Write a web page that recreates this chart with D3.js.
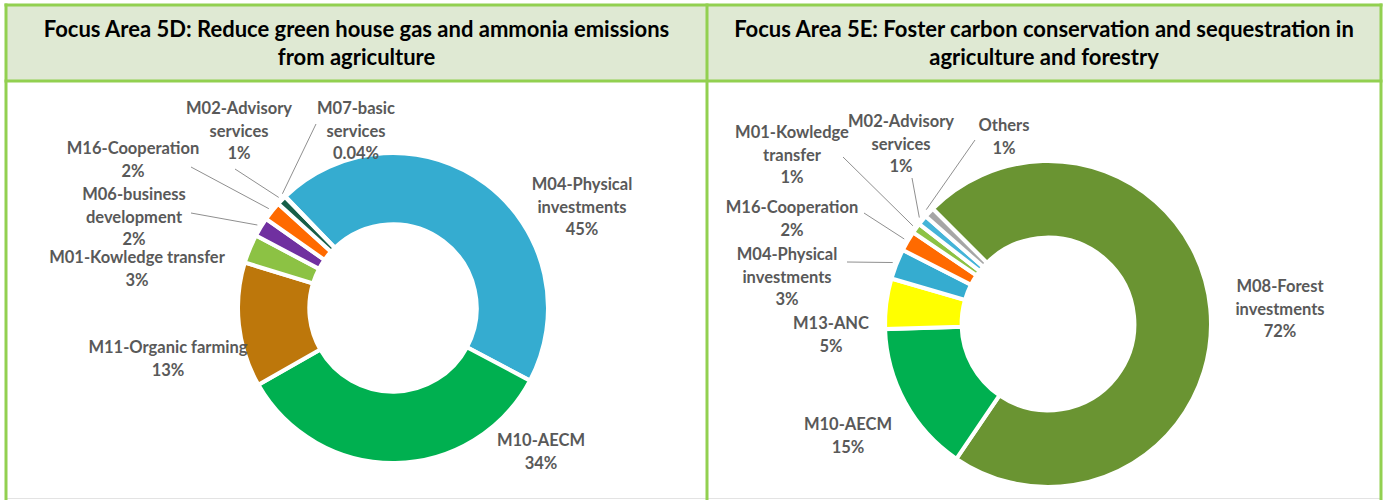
<!DOCTYPE html>
<html>
<head>
<meta charset="utf-8">
<script src="https://cdn.jsdelivr.net/npm/d3@7"></script>
<style>
  body { margin: 0; background: #fff; }
  svg { display: block; font-family: Lato, "Open Sans", sans-serif; }
</style>
</head>
<body>
<div id="app"></div>
<script>
(function (d3) {
  'use strict'
  const w = 1385
  const h = 500

  // ---- data ----
  const titles5D = ['Focus Area 5D: Reduce green house gas and ammonia emissions', 'from agriculture']
  const names5D = ['M04-Physical investments', 'M10-AECM', 'M11-Organic farming', 'M01-Kowledge transfer',
    'M06-business development', 'M16-Cooperation', 'M02-Advisory services', 'M07-basic services']
  const values5D = [45, 34, 13, 3, 2, 2, 1, 0.04]

  const titles5E = ['Focus Area 5E: Foster carbon conservation and sequestration in', 'agriculture and forestry']
  const names5E = ['M08-Forest investments', 'M10-AECM', 'M13-ANC', 'M04-Physical investments',
    'M16-Cooperation', 'M01-Kowledge transfer', 'M02-Advisory services', 'Others']
  const values5E = [72, 15, 5, 3, 2, 1, 1, 1]

  // ---- styles / layout ----
  const colors5D = ['#35acd0', '#00b050', '#bd770b', '#8cc244', '#7030a0', '#ff6a00', '#175e48', '#4a7ebb']
  const colors5E = ['#6a9432', '#00b050', '#ffff00', '#35acd0', '#ff6a00', '#8cc244', '#44b4d8', '#a6a6a6']

  // label centre x, first line centre y, wrapped lines, optional leader start
  const labels5D = {
    'M04-Physical investments': { x: 582, y: 184, lines: ['M04-Physical', 'investments'] },
    'M10-AECM': { x: 541, y: 440, lines: ['M10-AECM'] },
    'M11-Organic farming': { x: 168, y: 347, lines: ['M11-Organic farming'] },
    'M01-Kowledge transfer': { x: 137, y: 257, lines: ['M01-Kowledge transfer'] },
    'M06-business development': { x: 134, y: 194, lines: ['M06-business', 'development'], lead: [191, 213] },
    'M16-Cooperation': { x: 133, y: 148, lines: ['M16-Cooperation'], lead: [191, 167] },
    'M02-Advisory services': { x: 239, y: 108, lines: ['M02-Advisory', 'services'], lead: [235, 169] },
    'M07-basic services': { x: 356, y: 108, lines: ['M07-basic', 'services'], lead: [316, 124] }
  }
  const labels5E = {
    'M08-Forest investments': { x: 1280, y: 286, lines: ['M08-Forest', 'investments'] },
    'M10-AECM': { x: 848, y: 424, lines: ['M10-AECM'] },
    'M13-ANC': { x: 831, y: 323, lines: ['M13-ANC'] },
    'M04-Physical investments': { x: 787, y: 254, lines: ['M04-Physical', 'investments'], lead: [847, 262] },
    'M16-Cooperation': { x: 792, y: 207, lines: ['M16-Cooperation'], lead: [864, 213] },
    'M01-Kowledge transfer': { x: 792, y: 132, lines: ['M01-Kowledge', 'transfer'], lead: [843, 157] },
    'M02-Advisory services': { x: 901, y: 121, lines: ['M02-Advisory', 'services'], lead: [912, 178] },
    'Others': { x: 1004, y: 125, lines: ['Others'], lead: [975, 140] }
  }

  const green = '#92d050'
  const headFill = '#dfe9d3'
  const textGrey = '#595959'

  const svg = d3.select('#app').append('svg')
    .attr('width', w)
    .attr('height', h)

  // header band
  svg.append('rect')
    .attr('x', 6).attr('y', 5)
    .attr('width', 1375).attr('height', 76)
    .attr('fill', headFill)

  // bottom faint line
  svg.append('line')
    .attr('x1', 6).attr('x2', 1381)
    .attr('y1', 498.5).attr('y2', 498.5)
    .attr('stroke', '#e3e3e3')

  const borders = svg.append('g').attr('stroke', green).attr('stroke-width', 3)
  borders.append('line').attr('x1', 4.5).attr('x2', 1382.5).attr('y1', 5).attr('y2', 5)
  borders.append('line').attr('x1', 4.5).attr('x2', 1382.5).attr('y1', 81).attr('y2', 81)
  borders.append('line').attr('x1', 6).attr('x2', 6).attr('y1', 3.5).attr('y2', h)
  borders.append('line').attr('x1', 707).attr('x2', 707).attr('y1', 3.5).attr('y2', h)
  borders.append('line').attr('x1', 1381).attr('x2', 1381).attr('y1', 3.5).attr('y2', h)

  const fmt = (v) => v < 0.1 ? d3.format('.2f')(v) + '%' : d3.format('.0f')(v) + '%'

  function drawDonut (cfg) {
    const g = svg.append('g')

    g.selectAll('text.title')
      .data(cfg.titles)
      .enter().append('text')
      .attr('class', 'title')
      .attr('x', cfg.titleX)
      .attr('y', (d, i) => 37 + i * 28)
      .attr('text-anchor', 'middle')
      .attr('font-size', 22)
      .attr('font-weight', 700)
      .attr('fill', '#000')
      .text((d) => d)

    const items = cfg.names.map((n, i) => ({ name: n, value: cfg.values[i], color: cfg.colors[i] }))

    const start = cfg.start * Math.PI / 180
    const pie = d3.pie()
      .sort(null)
      .value((d) => d.value)
      .startAngle(start)
      .endAngle(start + 2 * Math.PI)

    const arcs = pie(items)
    const arc = d3.arc().innerRadius(cfg.r * cfg.hole).outerRadius(cfg.r)

    const chart = g.append('g')
      .attr('transform', 'translate(' + cfg.cx + ',' + cfg.cy + ')')

    chart.selectAll('path')
      .data(arcs)
      .enter().append('path')
      .attr('d', arc)
      .attr('fill', (d) => d.data.color)
      .attr('stroke', '#fff')
      .attr('stroke-width', 4)
      .attr('stroke-linejoin', 'miter')

    // leader lines
    const withLead = arcs.filter((d) => cfg.labels[d.data.name].lead)
    g.selectAll('line.lead')
      .data(withLead)
      .enter().append('line')
      .attr('class', 'lead')
      .attr('x1', (d) => cfg.labels[d.data.name].lead[0])
      .attr('y1', (d) => cfg.labels[d.data.name].lead[1])
      .attr('x2', (d) => cfg.cx + (cfg.r + 4) * Math.sin((d.startAngle + d.endAngle) / 2))
      .attr('y2', (d) => cfg.cy - (cfg.r + 4) * Math.cos((d.startAngle + d.endAngle) / 2))
      .attr('stroke', '#8f8f8f')
      .attr('stroke-width', 1)

    // labels
    const lab = g.selectAll('text.lab')
      .data(arcs)
      .enter().append('text')
      .attr('class', 'lab')
      .attr('text-anchor', 'middle')
      .attr('font-size', 16.5)
      .attr('font-weight', 700)
      .attr('fill', textGrey)

    lab.each(function (d) {
      const L = cfg.labels[d.data.name]
      const lines = L.lines.concat([fmt(d.data.value)])
      d3.select(this).selectAll('tspan')
        .data(lines)
        .enter().append('tspan')
        .attr('x', L.x)
        .attr('y', (t, i) => L.y + 6 + i * 22.5)
        .text((t) => t)
    })
  }

  drawDonut({
    titles: titles5D, titleX: 356.5, names: names5D, values: values5D, colors: colors5D,
    labels: labels5D, cx: 393, cy: 308, r: 155, hole: 0.54, start: -44
  })

  drawDonut({
    titles: titles5E, titleX: 1044, names: names5E, values: values5E, colors: colors5E,
    labels: labels5E, cx: 1048, cy: 324, r: 163, hole: 0.53, start: -45
  })

}(d3))
</script>
</body>
</html>
